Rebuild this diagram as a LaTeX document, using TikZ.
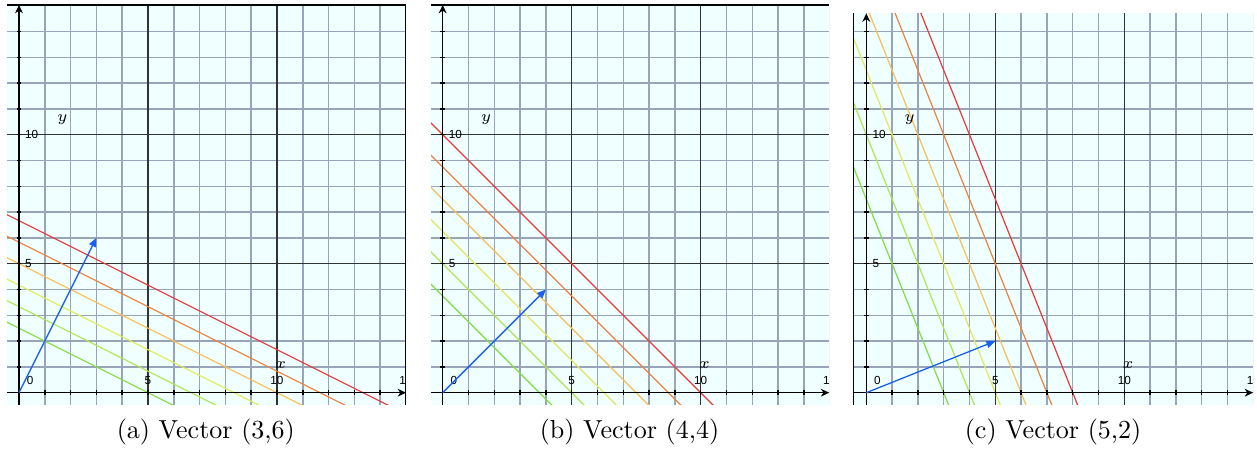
\documentclass[tikz,border=0pt]{standalone}
\usepackage{fontspec}
\newfontfamily\ticksans{Liberation Sans}
\usetikzlibrary{arrows.meta}

\definecolor{paper}{RGB}{240,255,255}
\definecolor{gridblue}{RGB}{152,164,186}
\definecolor{lvlgreen}{RGB}{128,222,64}
\definecolor{lvllime}{RGB}{176,230,80}
\definecolor{lvlyellow}{RGB}{226,234,88}
\definecolor{lvlgold}{RGB}{246,192,84}
\definecolor{lvlorange}{RGB}{238,128,64}
\definecolor{lvlred}{RGB}{230,60,56}
\definecolor{vecblue}{RGB}{26,96,240}

\begin{document}
\begin{tikzpicture}[x=0.384pt,y=0.384pt,
    minor/.style={gridblue, line width=0.55pt},
    major/.style={black!80, line width=0.45pt},
    level/.style={line width=0.45pt},
    axis/.style={black, line width=0.6pt, -{Stealth[length=3.2pt,width=3pt,inset=1pt]}},
    tick/.style={black, line width=0.6pt},
    vec/.style={vecblue, line width=0.5pt, -{Triangle[length=3.4pt,width=2.8pt]}},
    ticklabel/.style={font=\ticksans\fontsize{4.5}{5}\selectfont, inner sep=0pt},
    axlabel/.style={font=\fontsize{6}{7}\selectfont, inner sep=0pt},
    frame/.style={black, line width=0.45pt}]
    \useasboundingbox (0,0) rectangle (1257,452);

    % one panel per vector
    \foreach \ox/\lab/\vx/\vy/\xl/\xr/\yt in {19/a/3/6/-0.47/15.0/15.03,
        442.7/b/4/4/-0.45/14.98/15.03, 866.3/c/5/2/-0.5/14.99/14.7}{
      \begin{scope}[shift={(\ox,59.3)}, x=9.907pt, y=9.907pt]
        \fill[paper] (\xl,-0.47) rectangle (\xr,\yt);
        \begin{scope}
          \clip (\xl,-0.47) rectangle (\xr,\yt);
          % Raster
          \foreach \g in {0,...,15}{
            \draw[minor] (\g,-0.47) -- (\g,\yt);
            \draw[minor] (\xl,\g) -- (\xr,\g);
          }
          \foreach \g in {5,10}{
            \draw[major] (\g,-0.47) -- (\g,\yt);
            \draw[major] (\xl,\g) -- (\xr,\g);
          }
          % Niveaulijnen
          \foreach \c/\col in {15/lvlgreen, 20/lvllime, 25/lvlyellow,
              30/lvlgold, 35/lvlorange, 40/lvlred}
            \draw[level, \col] (-1,{(\c+\vx)/\vy}) -- (16,{(\c-16*\vx)/\vy});
          % Assen
          \draw[axis] (\xl,0) -- (\xr,0);
          \draw[axis] (0,-0.47) -- (0,\yt);
          \foreach \t in {1,...,14}{
            \draw[tick] (\t,-0.09) -- (\t,0.09);
            \draw[tick] (-0.09,\t) -- (0.09,\t);
          }
          \node[ticklabel] (n0-\lab) at (0.43,0.49) {0};
          \foreach \t in {5,10,15}{
            \node[ticklabel] (nx\t-\lab) at (\t,0.49) {\t};
          }
          \foreach \t/\ty in {5/5,10/10,15/15.28}{
            \node[ticklabel, anchor=west] (ny\t-\lab) at (0.22,\ty) {\t};
          }
          \node[axlabel] (xlab-\lab) at (10.15,1.05) {$x$};
          \node[axlabel] (ylab-\lab) at (1.68,10.6) {$y$};
          % Vector
          \coordinate (o-\lab) at (0,0);
          \coordinate (v-\lab) at (\vx,\vy);
          \draw[vec] (o-\lab) -- (v-\lab);
        \end{scope}
        \node[anchor=base] (cap-\lab) at (7.24,-1.79) {(\lab) Vector (\vx,\vy)};
      \end{scope}
    }

    % randen van de schermafdrukken
    \draw[frame] (7,447) -- (405.7,447) -- (405.7,47);
    \draw[frame] (431,447) -- (829,447);
    \draw[frame] (853.3,439) -- (853.3,47);
\end{tikzpicture}
\end{document}
